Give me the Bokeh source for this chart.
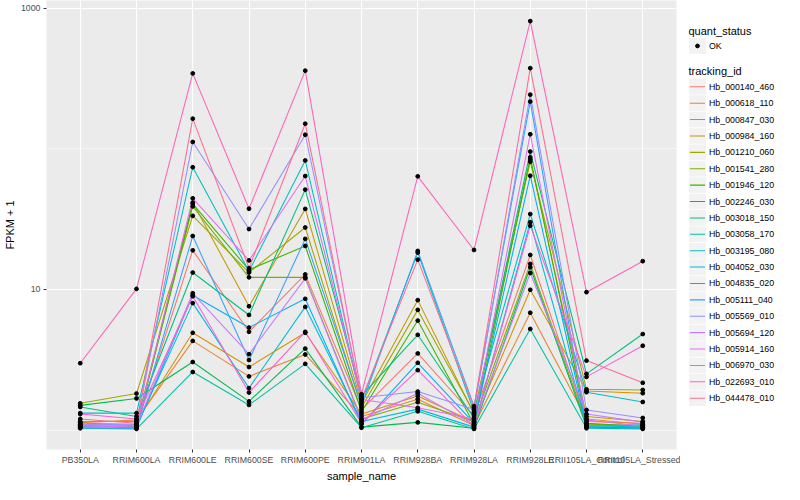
from bokeh.plotting import figure
from bokeh.models import Range1d, FixedTicker, ColumnDataSource
from bokeh.layouts import row
from bokeh.embed import file_html
from bokeh.resources import INLINE
from bokeh.core.properties import value

FONT = "Liberation Sans"

samples = ["PB350LA", "RRIM600LA", "RRIM600LE", "RRIM600SE", "RRIM600PE",
           "RRIM901LA", "RRIM928BA", "RRIM928LA", "RRIM928LE",
           "RRII105LA_Control", "RRII105LA_Stressed"]

tracking_ids = ["Hb_000140_460", "Hb_000618_110", "Hb_000847_030", "Hb_000984_160",
                "Hb_001210_060", "Hb_001541_280", "Hb_001946_120", "Hb_002246_030",
                "Hb_003018_150", "Hb_003058_170", "Hb_003195_080", "Hb_004052_030",
                "Hb_004835_020", "Hb_005111_040", "Hb_005569_010", "Hb_005694_120",
                "Hb_005914_160", "Hb_006970_030", "Hb_022693_010", "Hb_044478_010"]

colors = ["#F8766D", "#EA8331", "#D89000", "#C09B00", "#A3A500", "#7CAE00", "#39B600",
          "#00BB4E", "#00BF7D", "#00C1A3", "#00BFC4", "#00BAE0", "#00B0F6", "#35A2FF",
          "#9590FF", "#C77CFF", "#E76BF3", "#FA62DB", "#FF62BC", "#FF6C91"]

# FPKM + 1 per tracking_id, in the order of `samples`
hb_000140_460 = [1.10, 1.08, 19.0, 5.0, 12.8, 1.40, 3.51, 1.26, 17.6, 1.15, 1.12]
hb_000618_110 = [1.13, 1.18, 4.31, 2.41, 3.45, 1.25, 1.66, 1.08, 6.83, 1.20, 1.10]
hb_000847_030 = [1.15, 1.15, 4.92, 2.81, 4.92, 1.30, 1.75, 1.14, 9.95, 1.90, 1.83]
hb_000984_160 = [1.12, 1.10, 41.5, 7.6, 37.4, 1.55, 8.4, 1.30, 84.0, 1.25, 1.15]
hb_001210_060 = [1.55, 1.82, 33.4, 13.2, 27.6, 1.45, 7.16, 1.33, 81.0, 1.95, 1.93]
hb_001541_280 = [1.06, 1.06, 39.0, 12.2, 12.2, 1.20, 1.58, 1.15, 15.2, 1.10, 1.08]
hb_001946_120 = [1.08, 1.05, 40.6, 13.8, 20.4, 1.35, 6.01, 1.10, 87.1, 1.12, 1.06]
hb_002246_030 = [1.50, 1.68, 3.05, 1.60, 3.80, 1.05, 1.135, 1.03, 14.4, 1.05, 1.04]
hb_003018_150 = [1.46, 1.25, 13.2, 6.59, 51.3, 1.75, 4.76, 1.22, 95.7, 2.51, 4.82]
hb_003058_170 = [1.03, 1.02, 2.59, 1.51, 2.96, 1.04, 1.36, 1.02, 5.24, 1.03, 1.02]
hb_003195_080 = [1.32, 1.32, 74.0, 13.5, 82.7, 1.60, 18.3, 1.35, 34.4, 1.86, 1.585]
hb_004052_030 = [1.05, 1.07, 8.0, 1.99, 7.52, 1.15, 1.41, 1.05, 30.1, 1.08, 1.05]
hb_004835_020 = [1.07, 1.04, 9.1, 5.36, 8.58, 1.10, 3.01, 1.12, 64.4, 1.06, 1.03]
hb_005111_040 = [1.04, 1.03, 24.0, 3.15, 22.9, 1.50, 18.8, 1.48, 217.0, 1.07, 1.09]
hb_005569_010 = [1.09, 1.10, 112.0, 26.9, 126.0, 1.70, 1.88, 1.40, 243.0, 1.39, 1.22]
hb_005694_120 = [1.05, 1.08, 9.4, 3.47, 12.0, 1.18, 1.83, 1.09, 13.1, 1.30, 1.14]
hb_005914_160 = [1.08, 1.05, 44.5, 16.1, 64.1, 1.65, 1.44, 1.20, 127.0, 1.18, 1.07]
hb_006970_030 = [1.30, 1.20, 8.95, 1.85, 5.0, 1.12, 2.67, 1.06, 28.4, 2.39, 3.98]
hb_022693_010 = [2.99, 10.1, 344.0, 37.5, 360.0, 1.80, 63.8, 19.1, 810.0, 9.57, 15.9]
hb_044478_010 = [1.20, 1.12, 164.0, 14.2, 151.0, 1.66, 16.3, 1.45, 375.0, 3.12, 2.17]

series = [hb_000140_460, hb_000618_110, hb_000847_030, hb_000984_160, hb_001210_060,
          hb_001541_280, hb_001946_120, hb_002246_030, hb_003018_150, hb_003058_170,
          hb_003195_080, hb_004052_030, hb_004835_020, hb_005111_040, hb_005569_010,
          hb_005694_120, hb_005914_160, hb_006970_030, hb_022693_010, hb_044478_010]

y_ticks = [10, 1000]
y_minor = [1, 100]

# ---------------- main panel ----------------
p = figure(width=680, height=484, output_backend="svg", toolbar_location=None,
           y_axis_type="log", x_range=Range1d(-0.6, len(samples) - 0.4),
           y_range=Range1d(0.728, 1135),
           min_border_left=37, min_border_right=4, min_border_top=0, min_border_bottom=26,
           background_fill_color="#EBEBEB", border_fill_color="white",
           outline_line_color=None)

xpos = list(range(len(samples)))
xt = FixedTicker(ticks=xpos, minor_ticks=[])
yt = FixedTicker(ticks=y_ticks, minor_ticks=y_minor)
p.xaxis.ticker = xt
p.yaxis.ticker = yt
p.xgrid.ticker = xt
p.ygrid.ticker = yt
p.xaxis.major_label_overrides = {i: s for i, s in enumerate(samples)}
p.yaxis.major_label_overrides = {t: str(t) for t in y_ticks}

p.xgrid.grid_line_color = "white"
p.xgrid.grid_line_width = 1.07
p.xgrid.minor_grid_line_color = None
p.ygrid.grid_line_color = "white"
p.ygrid.grid_line_width = 1.07
p.ygrid.minor_grid_line_color = "white"
p.ygrid.minor_grid_line_width = 0.55

for ax in (p.xaxis[0], p.yaxis[0]):
    ax.axis_line_color = None
    ax.major_tick_line_color = "#333333"
    ax.major_tick_line_width = 1.07
    ax.major_tick_in = 0
    ax.major_tick_out = 3
    ax.minor_tick_line_color = None
    ax.major_label_text_font = FONT
    ax.major_label_text_font_size = "8.8px"
    ax.major_label_text_color = "#4D4D4D"
    ax.major_label_standoff = 2
    ax.axis_label_text_font = FONT
    ax.axis_label_text_font_size = "11px"
    ax.axis_label_text_font_style = "normal"
    ax.axis_label_text_color = "black"
    ax.axis_label_standoff = 2

p.xaxis.axis_label = "sample_name"
p.yaxis.axis_label = "FPKM + 1"

for vals, col in zip(series, colors):
    p.line(x=xpos, y=vals, line_color=col, line_width=1.07)

pts_x, pts_y = [], []
for vals in series:
    pts_x.extend(xpos)
    pts_y.extend(vals)
p.scatter(x=pts_x, y=pts_y, size=3.8, fill_color="black", line_color="black")

# ---------------- legend panel ----------------
leg = figure(width=104, height=484, output_backend="svg", toolbar_location=None,
             x_range=Range1d(688, 792), y_range=Range1d(492, 8),
             min_border=0, x_axis_location=None, y_axis_location=None,
             outline_line_color=None, background_fill_color="white",
             border_fill_color="white")
leg.xgrid.visible = False
leg.ygrid.visible = False

key_x = 705
lab_x = 716.5
leg.text(x=[696], y=[40.7], text=["quant_status"], text_font=value(FONT),
         text_font_size="11px", text_baseline="middle", text_color="black")
leg.rect(x=[key_x], y=[57], width=16.8, height=16.8, fill_color="#F2F2F2", line_color=None)
leg.scatter(x=[key_x], y=[57], size=3.8, fill_color="black", line_color="black")
leg.text(x=[lab_x], y=[57], text=["OK"], text_font=value(FONT),
         text_font_size="8.8px", text_baseline="middle", text_color="black")

leg.text(x=[696], y=[84], text=["tracking_id"], text_font=value(FONT),
         text_font_size="11px", text_baseline="middle", text_color="black")
key_y = [101 + 17.67 * i for i in range(len(tracking_ids))]
src = ColumnDataSource(dict(y=key_y, c=colors, t=tracking_ids))
leg.rect(x=key_x, y="y", width=16.8, height=16.8, fill_color="#F2F2F2", line_color=None, source=src)
leg.segment(x0=key_x - 7.5, x1=key_x + 7.5, y0="y", y1="y", line_color="c",
            line_width=1.07, source=src)
leg.text(x=lab_x, y="y", text="t", text_font=value(FONT), text_font_size="8.8px",
         text_baseline="middle", text_color="black", source=src)

layout = row(p, leg)
open("out.html", "w").write(file_html(layout, INLINE))
